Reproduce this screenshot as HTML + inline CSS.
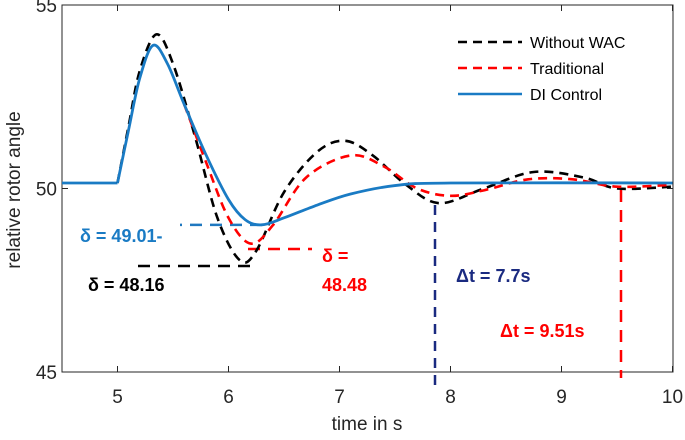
<!DOCTYPE html><html><head><meta charset="utf-8"><style>body{margin:0;background:#fff}svg{font-family:"Liberation Sans",sans-serif}</style></head><body>
<svg width="685" height="435">
<g id="plot"></g></svg>
<script>
const xTicks=[5,6,7,8,9,10];
const yTicks=[45,50,55];
const tDI=[5.0,5.1,5.2,5.32,5.45,5.6,5.8,6.0,6.15,6.3,6.5,6.8,7.1,7.5,8.0,10];
const yDI=[50.15,51.6,53.0,53.9,53.4,52.3,50.9,49.7,49.15,49.01,49.2,49.55,49.85,50.08,50.15,50.15];
const tWO=[5.0,5.1,5.2,5.35,5.5,5.7,5.9,6.1,6.25,6.5,6.8,7.05,7.3,7.6,7.9,8.3,8.75,9.2,9.5,10];
const yWO=[50.15,51.7,53.2,54.2,53.4,51.4,49.2,48.05,48.3,49.9,51.0,51.3,50.9,50.1,49.6,50.0,50.45,50.3,50.0,50.05];
const tTR=[5.6,5.8,6.0,6.2,6.4,6.7,7.1,7.4,7.7,8.0,8.3,8.7,9.1,9.5,10];
const yTR=[52.3,50.7,49.2,48.5,49.0,50.3,50.9,50.6,50.0,49.8,49.95,50.25,50.25,50.05,50.1];
const X=v=>62+(v-4.5)*111, Y=v=>5+(55-v)*36.7;
const NS='http://www.w3.org/2000/svg', g=document.getElementById('plot');
function mk(tag,at,par){const e=document.createElementNS(NS,tag);for(const k in at)e.setAttribute(k,at[k]);(par||g).appendChild(e);return e;}
function smooth(ts,ys){const p=ts.map((t,i)=>[X(t),Y(ys[i])]);let d='M'+p[0];for(let i=0;i<p.length-1;i++){const a=p[Math.max(i-1,0)],b=p[i],c=p[i+1],e=p[Math.min(i+2,p.length-1)];d+=`C${b[0]+(c[0]-a[0])/6},${b[1]+(c[1]-a[1])/6} ${c[0]-(e[0]-b[0])/6},${c[1]-(e[1]-b[1])/6} ${c[0]},${c[1]}`;}return d;}
let e;
e=mk('rect',{x:62,y:5,width:611,height:367,fill:'none',stroke:'#262626','stroke-width':1});

xTicks.forEach(v=>{mk('line',{x1:X(v),x2:X(v),y1:372,y2:366,stroke:'#262626'});mk('line',{x1:X(v),x2:X(v),y1:5,y2:11,stroke:'#262626'});
e=mk('text',{x:X(v),y:403,'text-anchor':'middle','font-size':19,fill:'#262626'});e.textContent=v;
});
yTicks.forEach(v=>{mk('line',{x1:62,x2:68,y1:Y(v),y2:Y(v),stroke:'#262626'});mk('line',{x1:673,x2:667,y1:Y(v),y2:Y(v),stroke:'#262626'});
e=mk('text',{x:57,y:Y(v)+7,'text-anchor':'end','font-size':19,fill:'#262626'});e.textContent=v;
});
e=mk('text',{x:367,y:430,'text-anchor':'middle','font-size':19,fill:'#262626'});e.textContent='time in s';

e=mk('text',{x:0,y:0,'text-anchor':'middle','font-size':19,fill:'#262626',transform:'translate(20,190) rotate(-90)'});e.textContent='relative rotor angle';

const ann=[[262,Y(49.01),180,Y(49.01),'#1f78c0','12,8'],[138,266,250,266,'#000','12,8'],[248,249,312,249,'#f00','12,8'],[435,205,435,386,'#1a2a80','10,7'],[621,190,621,378,'#f00','12,8']];
ann.forEach(a=>{e=mk('line',{x1:a[0],y1:a[1],x2:a[2],y2:a[3],stroke:a[4],'stroke-width':2.5,'stroke-dasharray':a[5]});
});
e=mk('line',{x1:X(4.5),x2:X(5.0),y1:Y(50.15),y2:Y(50.15),stroke:'#1a7bc4','stroke-width':2.8});

const lines=[[tWO,yWO,'#000','9,6','series-without-wac'],[tTR,yTR,'#f00','9,6','series-traditional'],[tDI,yDI,'#1a7bc4','','series-di-control']];
lines.forEach(l=>{e=mk('path',{d:smooth(l[0],l[1]),fill:'none',stroke:l[2],'stroke-width':l[3]?2.6:2.8,'stroke-dasharray':l[3]});
});
const txt=[[80,242,'#1a7bc4','δ = 49.01-'],[88,291,'#000','δ = 48.16'],[322,262,'#f00','δ ='],[322,291,'#f00','48.48'],[456,282,'#1a2a80','Δt = 7.7s'],[500,337,'#f00','Δt = 9.51s']];
txt.forEach(t=>{e=mk('text',{x:t[0],y:t[1],fill:t[2],'font-size':18,'font-weight':'bold'});e.textContent=t[3];
});
const leg=[['Without WAC','#000','9,6',48],['Traditional','#f00','9,6',74],['DI Control','#1a7bc4','',100]];
leg.forEach(l=>{e=mk('line',{x1:458,x2:522,y1:l[3]-6,y2:l[3]-6,stroke:l[1],'stroke-width':2.6,'stroke-dasharray':l[2]});

e=mk('text',{x:530,y:l[3],'font-size':16,fill:'#000'});e.textContent=l[0];
});
</script></body></html>
